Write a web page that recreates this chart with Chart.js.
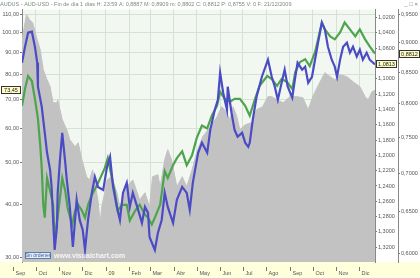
<!DOCTYPE html>
<html lang="es">
<head>
  <meta charset="UTF-8">
  <title>AUDUS - AUD-USD</title>
  <script src="https://cdn.jsdelivr.net/npm/chart.js"></script>
  <style>
    html, body { margin: 0; padding: 0; background: #fff; }
    #wrap { width: 420px; height: 278px; }
  </style>
</head>
<body>
  <div id="wrap"><canvas id="audChart" width="420" height="278"></canvas></div>

  <script>
    // x values are days counted from 1 Sep 2008
    const monthDays = [0, 30, 61, 91, 122, 153, 181, 212, 242, 273, 303, 334, 365, 395, 426, 456];
    const monthNames = ['Sep', 'Oct', 'Nov', 'Dic', '09', 'Feb', 'Mar', 'Abr', 'May', 'Jun', 'Jul', 'Ago', 'Sep', 'Oct', 'Nov', 'Dic'];

    const leftTicks = [30, 40, 50, 60, 70, 80, 90, 100, 110];
    const inverseTicks = [1.02, 1.04, 1.06, 1.08, 1.10, 1.12, 1.14, 1.16, 1.18, 1.20, 1.22, 1.24, 1.26, 1.28, 1.30, 1.32];
    const rightTicks = [0.95, 0.90, 0.85, 0.80, 0.75, 0.70, 0.65, 0.60];

    // grey area (left axis)
    const greyDays = [12, 16, 18, 22, 26, 32, 36, 40, 45, 49, 53, 58, 59, 65, 71, 75, 82, 86, 91, 97, 101, 105, 112, 115, 117, 121, 124, 130, 137, 141, 150, 158, 167, 174, 180, 184, 191, 194, 200, 204, 209, 216, 223, 229, 236, 242, 250, 260, 269, 275, 279, 286, 290, 295, 299, 306, 315, 321, 329, 336, 341, 348, 356, 365, 374, 382, 389, 395, 404, 411, 418, 424, 431, 440, 448, 457, 464, 468, 473, 477];
    const greyValues = [96.3, 105.4, 110.0, 107.1, 105.4, 96.3, 91.2, 82.0, 77.7, 74.9, 68.7, 68.7, 69.8, 62.8, 59.5, 56.4, 54.3, 55.5, 50.7, 46.3, 45.5, 48.0, 40.9, 36.2, 39.4, 42.5, 45.5, 46.3, 42.5, 39.4, 43.9, 45.5, 40.9, 42.5, 39.4, 46.3, 46.8, 43.9, 50.7, 53.5, 50.7, 43.9, 46.3, 43.9, 48.0, 52.6, 57.3, 60.4, 63.8, 67.3, 66.2, 62.8, 67.3, 63.8, 59.5, 61.1, 61.8, 66.2, 67.3, 71.0, 71.0, 69.8, 68.7, 71.0, 71.0, 70.6, 66.2, 71.0, 76.5, 80.7, 79.0, 77.7, 79.8, 79.0, 76.9, 74.9, 71.0, 69.8, 72.9, 73.45];

    // blue line (inner right axis, inverted)
    const blueDays = [12, 16, 20, 25, 29, 32, 33, 38, 42, 45, 49, 51, 53, 55, 58, 59, 62, 65, 69, 71, 75, 79, 84, 88, 92, 95, 99, 104, 108, 112, 119, 124, 128, 132, 137, 141, 145, 150, 154, 158, 165, 170, 174, 178, 180, 187, 191, 196, 200, 204, 211, 216, 223, 229, 233, 237, 244, 249, 256, 260, 266, 270, 273, 277, 282, 283, 288, 292, 296, 302, 306, 310, 312, 316, 321, 328, 336, 341, 345, 349, 354, 358, 362, 368, 372, 375, 381, 385, 389, 394, 398, 402, 407, 411, 415, 420, 424, 427, 431, 435, 440, 444, 448, 453, 457, 461, 466, 470, 477];
    const blueValues = [1.0791, 1.0582, 1.0399, 1.0386, 1.0582, 1.0791, 1.1105, 1.1366, 1.1706, 1.1967, 1.2189, 1.2412, 1.2843, 1.3235, 1.2934, 1.2490, 1.2059, 1.1706, 1.2098, 1.2320, 1.2673, 1.3196, 1.2581, 1.2843, 1.2974, 1.3235, 1.2843, 1.2490, 1.2281, 1.2412, 1.2451, 1.2150, 1.2019, 1.2412, 1.2673, 1.2843, 1.2490, 1.2359, 1.2673, 1.2490, 1.2712, 1.2882, 1.2673, 1.2751, 1.3065, 1.3235, 1.3013, 1.2843, 1.2490, 1.2673, 1.2882, 1.2581, 1.2412, 1.2490, 1.2712, 1.2359, 1.1967, 1.1836, 1.1967, 1.1667, 1.1405, 1.1274, 1.0922, 1.1183, 1.1405, 1.1105, 1.1444, 1.1667, 1.1758, 1.1706, 1.1836, 1.1889, 1.1836, 1.1536, 1.1235, 1.0974, 1.0752, 1.0974, 1.1105, 1.1274, 1.1052, 1.0882, 1.1105, 1.1248, 1.0974, 1.0791, 1.0882, 1.0843, 1.1052, 1.0974, 1.0752, 1.0529, 1.0268, 1.0360, 1.0582, 1.0752, 1.0843, 1.0974, 1.0752, 1.0582, 1.0529, 1.0660, 1.0582, 1.0712, 1.0621, 1.0752, 1.0660, 1.0752, 1.0813];

    // green line (outer right axis)
    const greenDays = [12, 16, 20, 25, 29, 33, 36, 38, 40, 42, 45, 49, 53, 55, 59, 65, 69, 72, 78, 82, 86, 91, 95, 99, 104, 111, 121, 125, 134, 138, 144, 150, 154, 161, 167, 174, 178, 183, 187, 194, 200, 204, 211, 216, 223, 229, 236, 242, 249, 256, 262, 269, 273, 279, 286, 292, 299, 306, 312, 319, 325, 335, 341, 348, 354, 361, 368, 372, 378, 385, 391, 398, 402, 407, 411, 418, 424, 431, 437, 444, 451, 457, 464, 470, 477];
    const greenValues = [0.7971, 0.8234, 0.8440, 0.8360, 0.8078, 0.7776, 0.7385, 0.7068, 0.6587, 0.6426, 0.6935, 0.6765, 0.6587, 0.6185, 0.6426, 0.6935, 0.6765, 0.6550, 0.6341, 0.6512, 0.6587, 0.6512, 0.6426, 0.6587, 0.6714, 0.6843, 0.7068, 0.7205, 0.6765, 0.6512, 0.6587, 0.6587, 0.6390, 0.6512, 0.6587, 0.6463, 0.6426, 0.6341, 0.6426, 0.6587, 0.7028, 0.6935, 0.7109, 0.7205, 0.7301, 0.7109, 0.7246, 0.7485, 0.7673, 0.7629, 0.7820, 0.7971, 0.8186, 0.8078, 0.8032, 0.8078, 0.8078, 0.7971, 0.7820, 0.8078, 0.8281, 0.8440, 0.8392, 0.8281, 0.8392, 0.8344, 0.8234, 0.8505, 0.8668, 0.8718, 0.8603, 0.8835, 0.9057, 0.9356, 0.9232, 0.9109, 0.9057, 0.9179, 0.9356, 0.9232, 0.9109, 0.9232, 0.9057, 0.8937, 0.8812];

    const FONT = 'Liberation Sans, Arial, sans-serif';
    const comma = (v, d) => v.toFixed(d).replace('.', ',');
    const pairs = (xs, ys) => xs.map((x, i) => ({ x: x, y: ys[i] }));

    // backgrounds, month labels, last-value boxes, watermark
    const decor = {
      id: 'decor',
      beforeDraw(chart) {
        const { ctx, chartArea: a, width, height } = chart;
        ctx.save();
        ctx.fillStyle = '#ffffff';
        ctx.fillRect(0, 0, width, height);
        ctx.fillStyle = '#f2f8f1';
        ctx.fillRect(a.left, a.top, a.right - a.left, a.bottom - a.top);
        ctx.fillStyle = '#ffffdc';
        ctx.fillRect(0, a.bottom, width, height - a.bottom);
        ctx.restore();
      },
      afterDraw(chart) {
        const { ctx, chartArea: a, width, scales } = chart;
        ctx.save();

        // month labels under the plot
        ctx.font = '5.5px ' + FONT;
        ctx.fillStyle = '#555';
        ctx.strokeStyle = '#777';
        ctx.lineWidth = 1;
        ctx.textBaseline = 'middle';
        ctx.textAlign = 'left';
        monthDays.forEach((d, i) => {
          const px = Math.round(scales.x.getPixelForValue(d)) + 0.5;
          if (px < 0 || px > width) return;
          ctx.beginPath();
          ctx.moveTo(px, a.bottom + 5);
          ctx.lineTo(px, a.bottom + 9);
          ctx.stroke();
          ctx.fillText(monthNames[i], px + 2, a.bottom + 11);
        });

        // last value boxes
        const box = (scale, v, text, x0, w) => {
          const py = Math.round(scale.getPixelForValue(v));
          ctx.fillStyle = '#ffffc4';
          ctx.fillRect(x0, py - 4, w, 8);
          ctx.strokeStyle = '#333';
          ctx.strokeRect(x0 + 0.5, py - 3.5, w - 1, 7);
          ctx.fillStyle = '#222';
          ctx.textAlign = 'center';
          ctx.fillText(text, x0 + w / 2, py + 0.5);
        };
        box(scales.y, greyValues[greyValues.length - 1], comma(greyValues[greyValues.length - 1], 2), 1, 20);
        box(scales.y1, blueValues[blueValues.length - 1], comma(blueValues[blueValues.length - 1], 4), scales.y1.left + 1, 21);
        box(scales.y2, greenValues[greenValues.length - 1], comma(greenValues[greenValues.length - 1], 4), scales.y2.left + 1, 21);

        // "Sin órdenes" tag and watermark
        ctx.fillStyle = '#e4ecf6';
        ctx.fillRect(a.left + 3, a.bottom - 10, 26, 7);
        ctx.strokeStyle = '#5a7cb0';
        ctx.strokeRect(a.left + 3.5, a.bottom - 9.5, 25, 6);
        ctx.fillStyle = '#3c5f98';
        ctx.font = '5px ' + FONT;
        ctx.fillText('Sin órdenes', a.left + 16, a.bottom - 6.3);
        ctx.fillStyle = 'rgba(255,255,255,0.85)';
        ctx.font = 'bold 7px ' + FONT;
        ctx.textAlign = 'left';
        ctx.fillText('www.visualchart.com', a.left + 32, a.bottom - 6);

        // window buttons
        ctx.fillStyle = '#777';
        ctx.font = '6px ' + FONT;
        ctx.textAlign = 'right';
        ctx.fillText('_ □ ×', width - 2, 4);
        ctx.restore();
      }
    };

    new Chart(document.getElementById('audChart'), {
      type: 'line',
      data: {
        datasets: [
          {
            label: 'AUD-USD inv',
            data: pairs(blueDays, blueValues),
            yAxisID: 'y1',
            borderColor: '#4b4bc6',
            borderWidth: 2.2,
            pointRadius: 0,
            fill: false,
            order: 0
          },
          {
            label: 'AUD-USD',
            data: pairs(greenDays, greenValues),
            yAxisID: 'y2',
            borderColor: '#4ea44e',
            borderWidth: 2.2,
            pointRadius: 0,
            fill: false,
            order: 1
          },
          {
            label: 'AUDUS',
            data: pairs(greyDays, greyValues),
            yAxisID: 'y',
            borderColor: '#c2c2c2',
            backgroundColor: '#c2c2c2',
            borderWidth: 1,
            pointRadius: 0,
            fill: 'start',
            order: 2
          }
        ]
      },
      options: {
        responsive: false,
        animation: false,
        layout: { padding: 0 },
        plugins: {
          legend: { display: false },
          tooltip: { enabled: false },
          title: {
            display: true,
            align: 'start',
            text: 'AUDUS - AUD-USD - Fin de día 1 días H: 23:59 A: 0,8887 M: 0,8909 m: 0,8802 C: 0,8812 P: 0,8755 V: 0 F: 21/12/2009',
            color: '#7d8a7d',
            font: { family: FONT, size: 5.5, weight: 'normal' },
            padding: { top: 1, bottom: 2 }
          }
        },
        scales: {
          x: {
            type: 'linear',
            min: 12,
            max: 477,
            afterBuildTicks: s => { s.ticks = monthDays.filter(d => d >= s.min && d <= s.max).map(d => ({ value: d })); },
            ticks: { display: false },
            grid: { color: '#d3e2d3', drawTicks: false },
            border: { display: false },
            afterFit: s => { s.height = 16; }
          },
          y: {
            type: 'logarithmic',
            position: 'left',
            min: 29.36,
            max: 113.0,
            afterBuildTicks: s => { s.ticks = leftTicks.map(v => ({ value: v })); },
            ticks: { font: { family: FONT, size: 5.5 }, color: '#555', padding: 1, callback: v => comma(v, 2) },
            grid: { color: '#d3e2d3', tickLength: 2, tickColor: '#777' },
            border: { color: '#888' },
            afterFit: s => { s.width = 22; }
          },
          y1: {
            type: 'linear',
            position: 'right',
            weight: 0,
            reverse: true,
            min: 1.0098,
            max: 1.3392,
            afterBuildTicks: s => { s.ticks = inverseTicks.map(v => ({ value: v })); },
            ticks: { font: { family: FONT, size: 5.5 }, color: '#555', padding: 1, callback: v => comma(v, 4) },
            grid: { drawOnChartArea: false, tickLength: 2, tickColor: '#777' },
            border: { color: '#888' },
            afterFit: s => { s.width = 23; }
          },
          y2: {
            type: 'logarithmic',
            position: 'right',
            weight: 1,
            min: 0.5929,
            max: 0.9591,
            afterBuildTicks: s => { s.ticks = rightTicks.map(v => ({ value: v })); },
            ticks: { font: { family: FONT, size: 5.5 }, color: '#555', padding: 1, callback: v => comma(v, 4) },
            grid: { drawOnChartArea: false, tickLength: 2, tickColor: '#777' },
            border: { color: '#888' },
            afterFit: s => { s.width = 22; }
          }
        }
      },
      plugins: [decor]
    });
  </script>
</body>
</html>
